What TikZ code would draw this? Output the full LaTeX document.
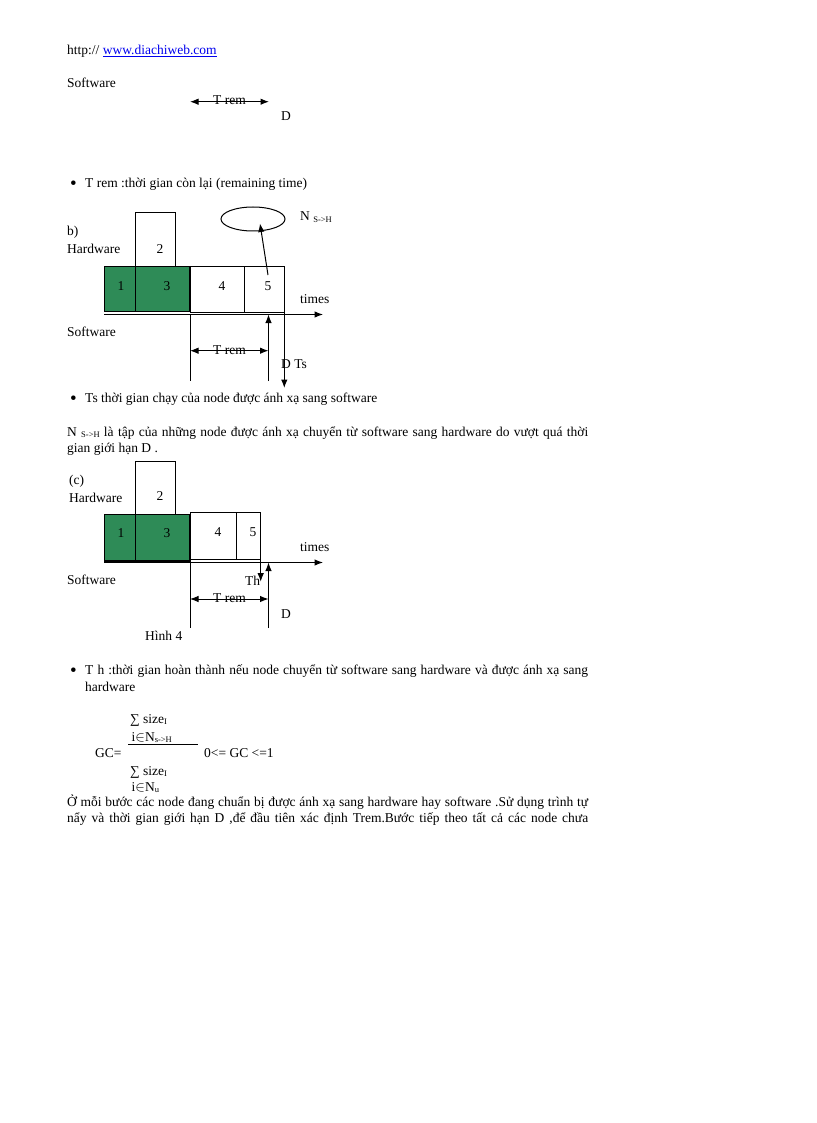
\documentclass[tikz,border=0pt]{standalone}
\usepackage{fontspec}
\setmainfont{Liberation Serif}
\usepackage{xcolor}
\usetikzlibrary{arrows.meta,positioning,shapes}
\definecolor{blockgreen}{RGB}{46,139,87}
\definecolor{linkblue}{RGB}{0,0,238}
\newcommand{\smallsub}[1]{\raisebox{-1.5pt}{\fontsize{8.5}{9}\selectfont #1}}
\newcommand{\bigdot}{{\fontsize{19}{19}\selectfont •}}
\tikzset{
  txt/.style={anchor=base west, inner sep=0pt, font=\fontsize{13.5}{16}\selectfont},
  num/.style={anchor=base, inner sep=0pt, font=\fontsize{13.5}{16}\selectfont},
  box/.style={draw, line width=1pt},
  hwblock/.style={draw, fill=blockgreen, line width=1.1pt},
  axis/.style={-{Latex[length=8.5pt,width=6.5pt]}, line width=1pt},
  span/.style={{Latex[length=8.5pt,width=6.5pt]}-{Latex[length=8.5pt,width=6.5pt]}, line width=1pt},
  pointer/.style={-{Latex[length=8.5pt,width=6.5pt]}, line width=1pt}
}
\begin{document}
\begin{tikzpicture}[x=1pt, y=-1pt]
  \useasboundingbox (0,0) rectangle (816,1123);

  % header
  \node[txt] (url) at (67,55) {http:// {\color{linkblue}\underline{www.diachiweb.com}}};

  % part a (tail)
  \node[txt] (swa) at (67,88) {Software};
  \coordinate (a0) at (190,101.7);
  \coordinate (a1) at (269,101.7);
  \draw[span] (a0) -- (a1);
  \node[num] (trema) at (229.5,105) {T rem};
  \node[txt] (da) at (281,121) {D};

  \node[txt] (bul1) at (70,190) {\bigdot};
  \node[txt] (trem) at (85,188) {T rem :thời gian còn lại (remaining time)};

  % part b
  \node[txt] (lbb) at (67,236) {b)};
  \node[txt] (hwb) at (67,254) {Hardware};
  \node[txt] (swb) at (67,336) {Software};

  \draw[box] (135.7,213) rectangle (175,266.7);
  \node[num] (b2) at (160,254) {2};
  \draw[hwblock] (104.3,266.7) rectangle (190,311.7);
  \draw[line width=1.1pt] (135.7,266.7) -- (135.7,311.7);
  \node[num] (b1) at (121,290) {1};
  \node[num] (b3) at (167,290) {3};
  \draw[box] (190,266.7) rectangle (284.3,312.3);
  \draw[box] (244.3,266.7) -- (244.3,312.3);
  \node[num] (b4) at (222,290) {4};
  \node[num] (b5) at (268,290) {5};

  \coordinate (bo) at (104,314.5);
  \coordinate (be) at (323,314.5);
  \draw[axis] (bo) -- (be);
  \node[txt] (timesb) at (300,303) {times};

  \node[draw, ellipse, line width=1pt, minimum width=64pt, minimum height=24pt] (nsh) at (253,219) {};
  \node[txt] (nshl) at (300,221) {N \smallsub{S->H}};
  \coordinate (p5) at (268,275);
  \coordinate (pin) at (260,223.5);
  \draw[pointer] (p5) -- (pin);

  \coordinate (bt) at (190,314.5);
  \coordinate (bb) at (190,381);
  \draw[line width=1pt] (bt) -- (bb);
  \coordinate (bdl) at (268.5,381);
  \coordinate (bdh) at (268.5,314.5);
  \draw[pointer] (bdl) -- (bdh);
  \coordinate (btop) at (284.3,266.7);
  \coordinate (bts) at (284.3,388);
  \draw[pointer] (btop) -- (bts);
  \coordinate (br0) at (190,350.7);
  \coordinate (br1) at (268.5,350.7);
  \draw[span] (br0) -- (br1);
  \node[num] (tremb) at (229.5,354) {T rem};
  \node[txt] (dts) at (281,368) {D Ts};

  \node[txt] (bul2) at (70,404) {\bigdot};
  \node[txt] (ts) at (85,402) {Ts thời gian chạy của node được ánh xạ sang software};

  \node[txt] (par1) at (67,436) {\makebox[521pt][s]{N \smallsub{S->H} là tập của những node được ánh xạ chuyển từ software sang hardware do vượt quá thời}};
  \node[txt] (par2) at (67,452) {gian giới hạn D .};

  % part c
  \node[txt] (lbc) at (69,484) {(c)};
  \node[txt] (hwc) at (69,502) {Hardware};
  \node[txt] (swc) at (67,584) {Software};

  \draw[box] (135.7,461) rectangle (175,514.3);
  \node[num] (c2) at (160,500) {2};
  \draw[hwblock] (104.3,514.3) rectangle (190,561);
  \draw[line width=1.1pt] (135.7,514.3) -- (135.7,561);
  \node[num] (c1) at (121,537) {1};
  \node[num] (c3) at (167,537) {3};
  \draw[box] (190,512.7) rectangle (260.7,559.5);
  \draw[box] (236.7,512.7) -- (236.7,559.5);
  \node[num] (c4) at (218,536) {4};
  \node[num] (c5) at (253,536) {5};

  \coordinate (co) at (104,562.5);
  \coordinate (ce) at (323,562.5);
  \draw[axis] (co) -- (ce);
  \node[txt] (timesc) at (300,551) {times};

  \coordinate (cth0) at (260.7,559.5);
  \coordinate (cth1) at (260.7,581.7);
  \draw[pointer] (cth0) -- (cth1);
  \node[txt] (th) at (245,585) {Th};
  \coordinate (ct) at (190,562.5);
  \coordinate (cb) at (190,628);
  \draw[line width=1pt] (ct) -- (cb);
  \coordinate (cdl) at (268.5,628);
  \coordinate (cdh) at (268.5,562.5);
  \draw[pointer] (cdl) -- (cdh);
  \coordinate (cr0) at (190,599);
  \coordinate (cr1) at (268.5,599);
  \draw[span] (cr0) -- (cr1);
  \node[num] (tremc) at (229.5,602.3) {T rem};
  \node[txt] (dc) at (281,618) {D};
  \node[txt] (fig) at (145,640) {Hình 4};

  \node[txt] (bul3) at (70,676) {\bigdot};
  \node[txt] (th1) at (85,674) {\makebox[503pt][s]{T h :thời gian hoàn thành nếu node chuyển từ software sang hardware và được ánh xạ sang}};
  \node[txt] (th2) at (85,691) {hardware};

  % formula
  \node[txt] (sum1) at (130,723) {∑ size\smallsub{I}};
  \node[txt] (idx1) at (131.5,741) {i$\in$N\smallsub{s->H}};
  \coordinate (fr0) at (128.3,744.5);
  \coordinate (fr1) at (198.3,744.5);
  \draw[line width=1pt] (fr0) -- (fr1);
  \node[txt] (gc) at (95,757) {GC=};
  \node[txt] (rng) at (204,757) {0<= GC <=1};
  \node[txt] (sum2) at (130,775) {∑ size\smallsub{I}};
  \node[txt] (idx2) at (131.5,791) {i$\in$N\smallsub{u}};

  \node[txt] (par3) at (67,806) {\makebox[521pt][s]{Ở mỗi bước các node đang chuẩn bị được ánh xạ sang hardware hay software .Sử dụng trình tự}};
  \node[txt] (par4) at (67,822) {\makebox[521pt][s]{nẩy và thời gian giới hạn D ,để đầu tiên xác định Trem.Bước tiếp theo tất cả các node chưa}};
\end{tikzpicture}
\end{document}
